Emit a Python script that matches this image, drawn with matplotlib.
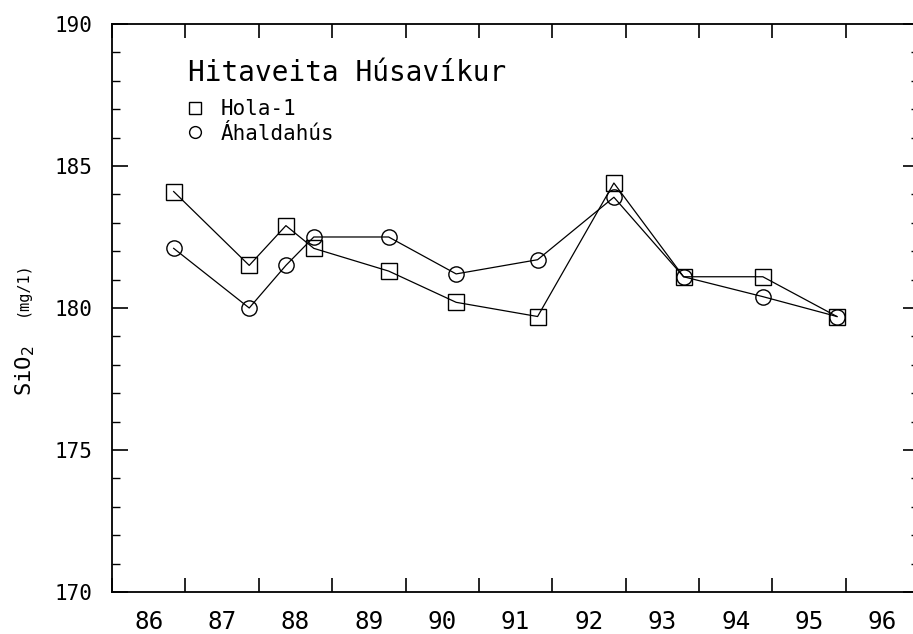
import matplotlib
matplotlib.use("Agg")
import matplotlib.pyplot as plt
from matplotlib.lines import Line2D
from matplotlib.ticker import MultipleLocator, FixedLocator, NullFormatter

plt.rcParams['font.family'] = ['DejaVu Sans Mono', 'DejaVu Sans']

# sampling times (decimal years, 19xx)
years = [86.84, 87.87, 88.37, 88.75, 89.77, 90.69, 91.80, 92.84, 93.79, 94.87, 95.88]

# SiO2 (mg/l)
hola1 = [184.1, 181.5, 182.9, 182.1, 181.3, 180.2, 179.7, 184.4, 181.1, 181.1, 179.7]
ahaldahus = [182.1, 180.0, 181.5, 182.5, 182.5, 181.2, 181.7, 183.9, 181.1, 180.4, 179.7]

year_labels = ['86', '87', '88', '89', '90', '91', '92', '93', '94', '95', '96']

fig = plt.figure(figsize=(9.13, 6.34), dpi=100)
# axes run past the right edge of the picture, like the scanned original
ax = fig.add_axes([0.1227, 0.0662, 0.884, 0.896])

ax.plot(years, hola1, color='black', lw=0.9, marker='s', ms=11,
        mfc='none', mec='black', mew=1.0)
ax.plot(years, ahaldahus, color='black', lw=0.9, marker='o', ms=11,
        mfc='none', mec='black', mew=1.0)

ax.set_xlim(86, 97)
ax.set_ylim(170, 190)

# x: ticks at year boundaries, labels in the middle of each year
ax.xaxis.set_major_locator(MultipleLocator(1))
ax.xaxis.set_major_formatter(NullFormatter())
ax.xaxis.set_minor_locator(FixedLocator([86.5 + i for i in range(len(year_labels))]))
ax.set_xticklabels(year_labels, minor=True)
ax.tick_params(axis='x', which='major', direction='in', length=10, width=1.2,
               top=True, bottom=True)
ax.tick_params(axis='x', which='minor', length=0, pad=13, labelsize=17.5)

ax.yaxis.set_major_locator(MultipleLocator(5))
ax.yaxis.set_minor_locator(MultipleLocator(1))
ax.tick_params(axis='y', which='major', direction='in', length=11.5, width=1.2,
               left=True, right=True, pad=14, labelsize=15)
ax.tick_params(axis='y', which='minor', direction='in', length=5.8, width=1.0,
               left=True, right=True)

for s in ax.spines.values():
    s.set_linewidth(1.3)

fig.text(0.028, 0.415, 'SiO$_2$', rotation=90, fontsize=16,
         ha='center', va='center')
fig.text(0.024, 0.545, '(mg/1)', rotation=90, fontsize=11,
         ha='center', va='center')

ax.text(0.094, 0.914, 'Hitaveita Húsavíkur', transform=ax.transAxes,
        fontsize=20, ha='left', va='center')

handles = [Line2D([], [], ls='none', marker='s', ms=8.5, mfc='none', mec='black', mew=1.0),
           Line2D([], [], ls='none', marker='o', ms=8.5, mfc='none', mec='black', mew=1.0)]
ax.legend(handles, ['Hola-1', 'Áhaldahús'], loc='upper left',
          bbox_to_anchor=(0.0895, 0.868), frameon=False, fontsize=15,
          handlelength=1.0, handletextpad=0.76, borderpad=0, borderaxespad=0,
          labelspacing=0.22)

fig.savefig('out.png', dpi=100)
